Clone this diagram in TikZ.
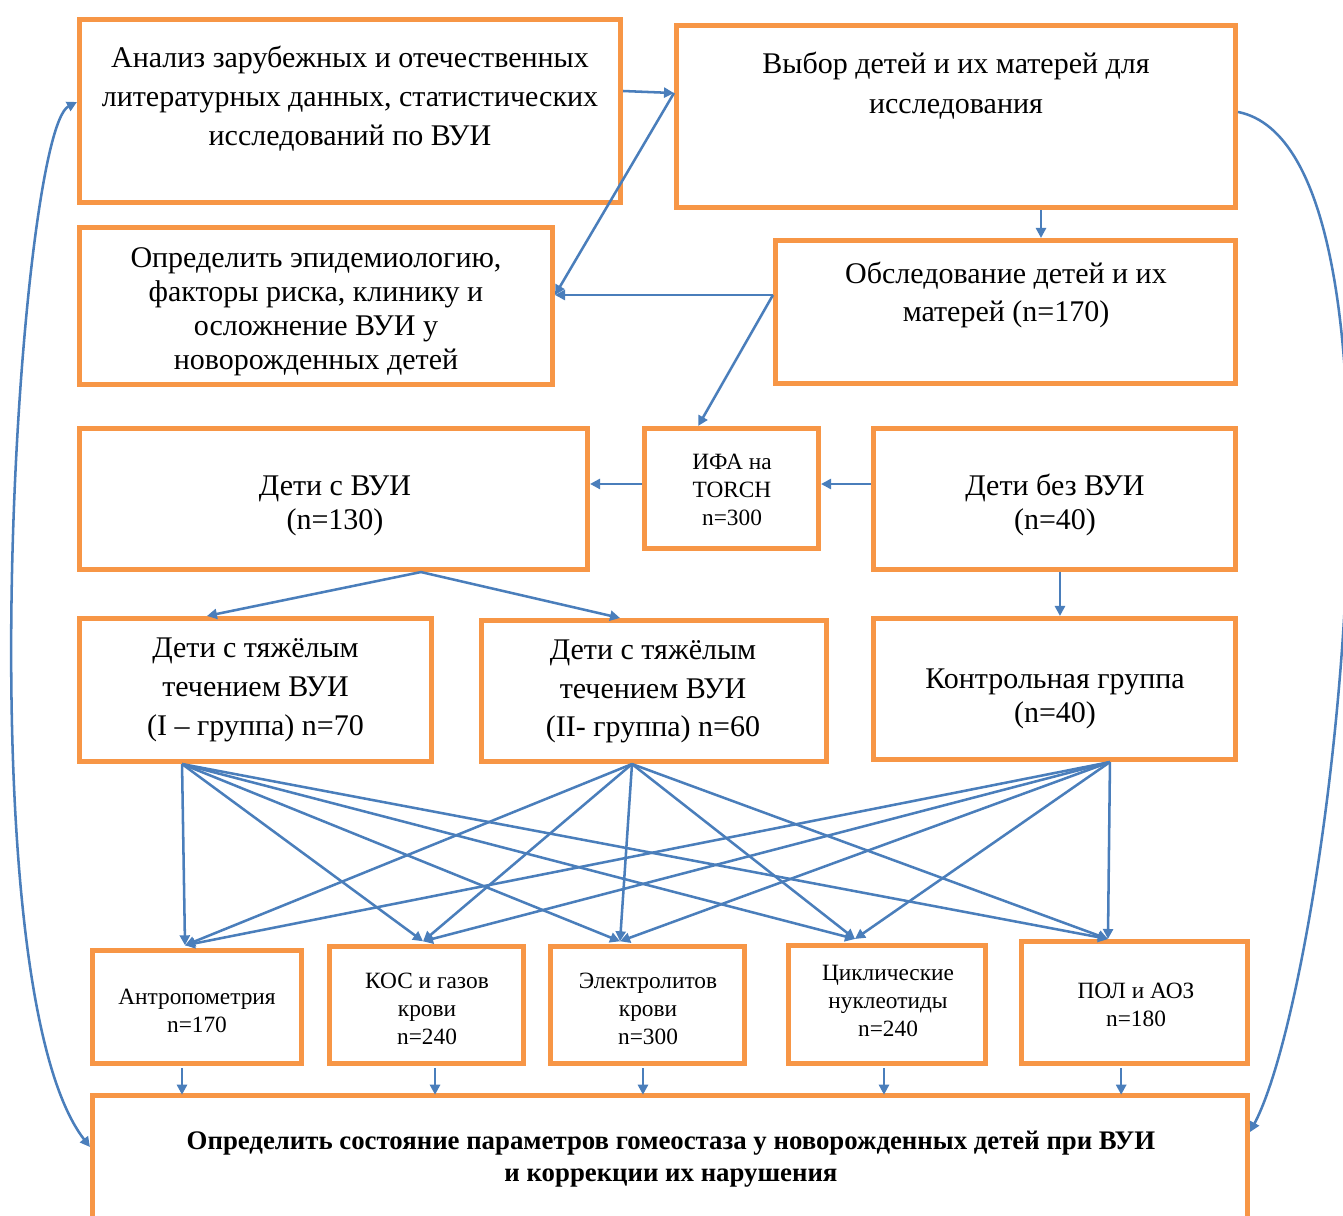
\documentclass[tikz,border=0pt]{standalone}
\usepackage{fontspec}
\setmainfont{Liberation Serif}
\usetikzlibrary{arrows.meta}
\definecolor{boxor}{HTML}{F79646}
\definecolor{arrbl}{HTML}{4A7EBB}
\begin{document}
\begin{tikzpicture}[x=0.75pt,y=-0.75pt,
  bx/.style={draw=boxor,line width=3.8pt,inner sep=0pt,fill=white},
  bw/.style={minimum width={#1*0.75pt}},
  bh/.style={minimum height={#1*0.75pt}},
  fm/.style={align=center,inner sep=0pt,font=\fontsize{22.5}{#1}\selectfont},
  fs/.style={align=center,inner sep=0pt,font=\fontsize{17.5}{21}\selectfont},
  con/.style={draw=arrbl,line width=1.9pt,-{Triangle[length=7.5pt,width=7.5pt]}},
  con2/.style={draw=arrbl,line width=1.9pt,{Triangle[length=7.5pt,width=7.5pt]}-{Triangle[length=7.5pt,width=7.5pt]}}]
\useasboundingbox (0,0) rectangle (1343,1215);
\clip (0,0) rectangle (1343,1215);
% row 1
\node[bx,bw=541,bh=183] (A) at (350,111) {};
\node[fm=29pt] (At) at (350,98.5) {Анализ зарубежных и отечественных\\литературных данных, статистических\\исследований по ВУИ};
\node[bx,bw=559,bh=182] (B) at (956,116.5) {};
\node[fm=30pt] (Bt) at (956,86) {Выбор детей и их матерей для\\исследования};
% row 2
\node[bx,bw=473,bh=157] (C) at (316,306) {};
\node[fm=25.5pt] (Ct) at (316,312) {Определить эпидемиологию,\\факторы риска, клинику и\\осложнение ВУИ у\\новорожденных детей};
\node[bx,bw=460,bh=143] (D) at (1005.5,312) {};
\node[fm=28.5pt] (Dt) at (1006,295) {Обследование детей и их\\матерей (n=170)};
% row 3
\node[bx,bw=508,bh=141] (E) at (333.5,499) {};
\node[fm=25.5pt] (Et) at (335,506) {Дети с ВУИ\\(n=130)};
\node[bx,bw=174,bh=120] (F) at (731.5,488.5) {};
\node[fs] (Ft) at (732,490) {ИФА на\\TORCH\\n=300};
\node[bx,bw=362,bh=141] (G) at (1054.5,499) {};
\node[fm=25.5pt] (Gt) at (1055,505) {Дети без ВУИ\\(n=40)};
% row 4
\node[bx,bw=352,bh=143] (H) at (255.5,690) {};
\node[fm=29pt] (Ht) at (255.5,690) {Дети с тяжёлым\\течением ВУИ\\(I -- группа) n=70};
\node[bx,bw=345,bh=141] (I) at (654,691) {};
\node[fm=29pt] (It) at (653,691.5) {Дети с тяжёлым\\течением ВУИ\\(II- группа) n=60};
\node[bx,bw=362,bh=141] (J) at (1054.5,689) {};
\node[fm=25.5pt] (Jt) at (1055,699) {Контрольная группа\\(n=40)};
% row 5
\node[bx,bw=209,bh=113] (K1) at (197,1007) {};
\node[fs] (K1t) at (197,1011) {Антропометрия\\n=170};
\node[bx,bw=194,bh=117] (K2) at (426.5,1005) {};
\node[fs] (K2t) at (427,1009) {КОС и газов\\крови\\n=240};
\node[bx,bw=194,bh=117] (K3) at (647.5,1005) {};
\node[fs] (K3t) at (648,1009) {Электролитов\\крови\\n=300};
\node[bx,bw=197,bh=118] (K4) at (887,1004.5) {};
\node[fs] (K4t) at (888,1001) {Циклические\\нуклеотиды\\n=240};
\node[bx,bw=226,bh=122] (K5) at (1134.5,1002.5) {};
\node[fs] (K5t) at (1136,1005) {ПОЛ и АОЗ\\n=180};
% bottom
\node[bx,bw=1155,bh=123.5] (L) at (670,1157) {};
\node[align=center,inner sep=0pt,font=\fontsize{20.1}{24}\selectfont\bfseries] (Lt) at (671,1159) {Определить состояние параметров гомеостаза у новорожденных детей при ВУИ\\и коррекции их нарушения};
% connectors
\draw[con] ([yshift=15pt]A.east) -- ([yshift=17.6pt]B.west);
\draw[con] ([yshift=17.6pt]B.west) -- ([yshift=8.25pt]C.east);
\draw[con] ([yshift=12.75pt]D.west) -- ([yshift=8.25pt]C.east);
\draw[con] ([yshift=12.75pt]D.west) -- ([xshift=-25pt]F.north);
\draw[con] ([xshift=63.75pt]B.south) -- ([xshift=63.75pt]B.south |- D.north);
\draw[con] ([yshift=3.4pt]F.west) -- ([yshift=3.4pt]F.west -| E.east);
\draw[con] ([yshift=11.25pt]G.west) -- ([yshift=11.25pt]G.west -| F.east);
\draw[con] ([xshift=65.6pt]E.south) -- ([xshift=-36.4pt]H.north);
\draw[con] ([xshift=65.6pt]E.south) -- ([xshift=-25.5pt]I.north);
\draw[con] ([xshift=4.1pt]G.south) -- ([xshift=4.1pt]G.south |- J.north);
% fan-out
\foreach \s/\sx in {H/-55.1pt, I/-16.5pt, J/41.6pt}{
  \draw[con] ([xshift=\sx]\s.south) -- ([xshift=-9pt,yshift=2pt]K1.north);
  \draw[con] ([xshift=\sx]\s.south) -- ([xshift=-2.6pt,yshift=2pt]K2.north);
  \draw[con] ([xshift=\sx]\s.south) -- ([xshift=-20.6pt,yshift=2pt]K3.north);
  \draw[con] ([xshift=\sx]\s.south) -- ([xshift=-24pt,yshift=3pt]K4.north);
  \draw[con] ([xshift=\sx]\s.south) -- ([xshift=-19.9pt,yshift=0pt]K5.north);
}
% to bottom
\foreach \k/\kx in {K1/-11.25pt, K2/6.4pt, K3/-3.4pt, K4/-2.25pt, K5/-10pt}{
  \draw[con] ([xshift=\kx,yshift=-1.5pt]\k.south) -- ([xshift=\kx,yshift=-1.5pt]\k.south |- L.north);
}
% curves
\draw[con2] ([yshift=6.75pt]A.west) .. controls (18,132) and (-37,983) .. ([yshift=7.5pt]L.west);
\draw[con] ([yshift=3.4pt]B.east) .. controls (1429,150) and (1330,980) .. ([yshift=18.75pt]L.east);
\end{tikzpicture}
\end{document}
